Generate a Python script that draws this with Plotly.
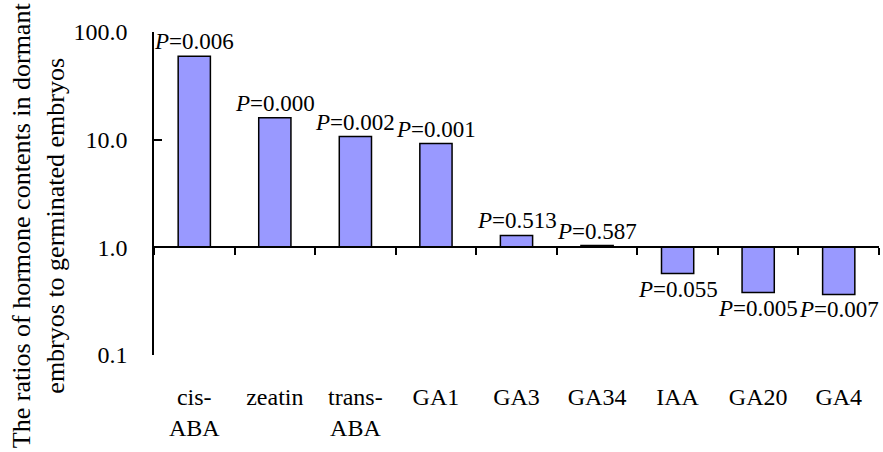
import math
import plotly.graph_objects as go

# Hormone ratio (dormant / germinated embryos) and P values
hormones = ["cis-<br>ABA", "zeatin", "trans-<br>ABA", "GA1", "GA3", "GA34", "IAA", "GA20", "GA4"]
ratios = [59.5, 16.0, 10.7, 9.2, 1.29, 1.04, 0.57, 0.38, 0.365]
p_values = ["0.006", "0.000", "0.002", "0.001", "0.513", "0.587", "0.055", "0.005", "0.007"]

y_tickvals = [0.1, 1, 10, 100]
y_ticktext = ["0.1", "1.0", "10.0", "100.0"]

FONT = "Liberation Serif, Times New Roman, serif"
BAR_COLOR = "#9999FF"

fig = go.Figure()

# Bars grow from ratio = 1 (up for >1, down for <1)
fig.add_trace(go.Bar(
    x=hormones,
    y=[r - 1 for r in ratios],
    base=1,
    width=0.4,
    marker=dict(color=BAR_COLOR, line=dict(color="black", width=1.5)),
    hoverinfo="skip",
))

# P-value labels above positive bars, below negative bars
for h, r, p in zip(hormones, ratios, p_values):
    up = r >= 1
    fig.add_annotation(
        x=h, y=math.log10(r), xref="x", yref="y",
        text=f"<i>P</i>={p}",
        showarrow=False,
        yanchor="bottom" if up else "top",
        yshift=0 if up else -1,
        font=dict(family=FONT, size=23, color="black"),
    )

# Y-axis title (two lines, rotated), centred on the figure height
fig.add_annotation(
    x=-0.16, y=0.402, xref="paper", yref="paper",
    yanchor="middle", xanchor="center",
    text="The ratios of hormone contents in dormant<br>embryos to germinated embryos",
    textangle=-90, showarrow=False,
    font=dict(family=FONT, size=26, color="black"),
)

fig.update_layout(
    width=883, height=452,
    margin=dict(l=154, r=4, t=32, b=97),
    plot_bgcolor="white", paper_bgcolor="white",
    showlegend=False,
    font=dict(family=FONT, color="black"),
    xaxis=dict(
        type="category",
        range=[-0.5, len(hormones) - 0.5],
        anchor="free", position=1 / 3,
        showline=True, linecolor="black", linewidth=1.5,
        ticks="outside", tickson="boundaries", ticklen=7,
        tickwidth=1.5, tickcolor="black",
        ticklabelstandoff=128,
        tickfont=dict(family=FONT, size=24, color="black"),
        showgrid=False, zeroline=False,
    ),
    yaxis=dict(
        type="log", range=[-1, 2],
        tickvals=y_tickvals, ticktext=y_ticktext,
        showline=True, linecolor="black", linewidth=1.5,
        ticks="inside", ticklen=8, tickwidth=1.5, tickcolor="black",
        ticklabelstandoff=20,
        tickfont=dict(family=FONT, size=24, color="black"),
        showgrid=False, zeroline=False,
    ),
)

fig.write_html("out.html")
